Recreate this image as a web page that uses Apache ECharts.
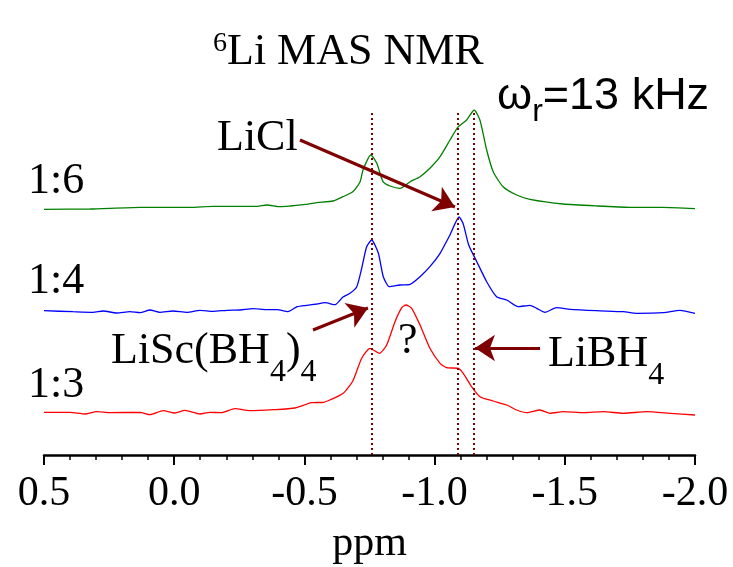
<!DOCTYPE html>
<html>
<head>
<meta charset="utf-8">
<script src="https://cdn.jsdelivr.net/npm/echarts@6/dist/echarts.min.js"></script>
<style>
html,body{margin:0;padding:0;background:#fff;overflow:hidden;}
#chart{width:733px;height:567px;}
</style>
</head>
<body>
<div id="chart"></div>
<script>
// ---- data (ppm, intensity in arbitrary units incl. stacking offset) ----
var ppm16 = [0.5,0.323,0.131,-0.061,-0.149,-0.318,-0.356,-0.406,-0.510,-0.548,-0.610,-0.648,-0.687,-0.714,-0.725,-0.755,-0.778,-0.802,-0.829,-0.867,-0.906,-0.944,-0.982,-1.021,-1.059,-1.089,-1.123,-1.152,-1.174,-1.200,-1.225,-1.263,-1.315,-1.366,-1.493,-1.624,-1.750,-1.877,-2.0];
var int16 = [250.7,251,252.7,252.7,253.7,253.7,255,253.3,255.7,257.3,259,263.3,268.5,278.3,290,305,296.7,278.3,274,271.7,278.3,283.3,291.7,303.3,320,332.7,340,350,340,310,288.3,273.3,265,260.7,256,254,252.7,252.7,251.3];

var ppm14 = [0.5,0.389,0.312,0.273,0.220,0.170,0.131,0.093,0.055,0.005,-0.049,-0.099,-0.149,-0.203,-0.253,-0.303,-0.356,-0.395,-0.437,-0.472,-0.510,-0.548,-0.579,-0.618,-0.648,-0.675,-0.701,-0.720,-0.739,-0.758,-0.784,-0.803,-0.826,-0.867,-0.906,-0.944,-0.982,-1.021,-1.059,-1.094,-1.110,-1.131,-1.162,-1.200,-1.238,-1.277,-1.321,-1.366,-1.392,-1.424,-1.469,-1.520,-1.622,-1.725,-1.776,-1.878,-1.942,-2.0];
var int14 = [149.3,148.3,147.7,149,147,148.3,147.3,150,147.7,149,147.7,149.7,148.7,149.7,150,151.3,150.3,150.3,148.3,153.3,154.7,156,157.3,155.3,163,166.7,173.3,191.7,213.3,220,206.7,183.3,173.3,175,175.7,183.3,193.3,206.7,225,243,236,215,198.3,178.3,163.3,160,153.3,154.7,151.7,147.7,152.3,150.7,149.3,148.3,146.7,147.3,149.7,146.7];

var ppm13 = [0.5,0.400,0.343,0.298,0.247,0.131,0.093,0.042,-0.003,-0.041,-0.099,-0.137,-0.182,-0.233,-0.291,-0.381,-0.464,-0.528,-0.573,-0.598,-0.649,-0.686,-0.720,-0.752,-0.788,-0.816,-0.848,-0.874,-0.890,-0.912,-0.944,-0.982,-1.021,-1.046,-1.091,-1.110,-1.142,-1.174,-1.225,-1.277,-1.315,-1.354,-1.405,-1.443,-1.494,-1.571,-1.648,-1.725,-1.814,-1.904,-2.0];
var int13 = [47.7,47.7,46,48.3,47.3,47.7,45.3,49.3,47,49.7,46,47.7,47.3,51.3,49.3,50.3,52,57.3,57.7,60,66.7,79,101.7,111.7,106.7,115,138.3,152.3,155,151.7,135,111.7,96.7,92.3,91.7,86.7,73.3,63.3,59,55,50,47.3,50,46.7,48.3,47.3,48.3,46.7,48.3,46.7,45];

var refLines = [-0.755, -1.087, -1.152];          // dotted reference shifts (ppm)
var xTicks = [0.5, 0.0, -0.5, -1.0, -1.5, -2.0];
// arrow annotations: [fromPpm, fromInt, toPpm, toInt]
var arrowLiCl = [-0.483, 320, -1.078, 253];
var arrowLiSc = [-0.533, 130, -0.744, 152];
var arrowLiBH4 = [-1.405, 112, -1.155, 112];

function pairs(x, y){ return x.map(function(v,i){ return [v, y[i]]; }); }
function arrow(a){ return [{coord:[a[0],a[1]]},{coord:[a[2],a[3]]}]; }

var chart = echarts.init(document.getElementById('chart'), null, {renderer:'canvas', width: 733, height: 567});
var serif = 'Liberation Serif, Times New Roman, serif';
var sans = 'Liberation Sans, Arial, sans-serif';
var dark = '#7f0000';

var mainTok = {fontFamily: serif, fontSize: 44, lineHeight: 50, verticalAlign: 'top', color: '#000'};
var subTok = {fontFamily: serif, fontSize: 32, verticalAlign: 'top', padding: [28,0,0,0], color: '#000'};
var supTok = {fontFamily: serif, fontSize: 28, verticalAlign: 'top', padding: [0,0,0,0], color: '#000'};

function txt(x, y, text, rich){
  return {type:'text', left:x, top:y, silent:true, z:100,
    style:{text:text, rich:rich || {m:mainTok, s:subTok, p:supTok}, fill:'#000', font: '44px ' + serif}};
}

chart.setOption({
  animation: false,
  backgroundColor: '#fff',
  grid: {left: 44, right: 38, top: 110, bottom: 112, containLabel: false, outerBoundsMode: 'none'},
  xAxis: {
    type: 'value', min: -2.0, max: 0.5, interval: 0.5, inverse: true,
    axisLine: {show: true, onZero: false, lineStyle: {color: '#000', width: 2.5}},
    axisTick: {show: true, inside: false, length: 10, lineStyle: {color: '#000', width: 2}},
    minorTick: {show: true, splitNumber: 5, length: 5, lineStyle: {color: '#000', width: 1.5}},
    splitLine: {show: false},
    axisLabel: {fontFamily: serif, fontSize: 42, color: '#000', margin: 18,
      formatter: function(v){ return (Math.abs(v) < 1e-9 ? 0 : v).toFixed(1); }},
    name: 'ppm', nameLocation: 'middle', nameGap: 68,
    nameTextStyle: {fontFamily: serif, fontSize: 42, color: '#000'}
  },
  yAxis: {type: 'value', min: 5, max: 350, show: false},
  series: [
    {name: '1:6', type: 'line', data: pairs(ppm16, int16), showSymbol: false, symbol: 'none', smooth: 0.2,
     lineStyle: {color: '#008000', width: 1.3}, itemStyle: {color: '#008000'}, z: 3},
    {name: '1:4', type: 'line', data: pairs(ppm14, int14), showSymbol: false, symbol: 'none', smooth: 0.2,
     lineStyle: {color: '#0000ff', width: 1.3}, itemStyle: {color: '#0000ff'}, z: 3,
     markLine: {silent: true, symbol: ['none', 'arrow'], symbolSize: 20, label: {show: false},
       lineStyle: {color: dark, width: 3, type: 'solid'},
       data: [arrow(arrowLiCl), arrow(arrowLiSc), arrow(arrowLiBH4)]}},
    {name: '1:3', type: 'line', data: pairs(ppm13, int13), showSymbol: false, symbol: 'none', smooth: 0.2,
     lineStyle: {color: '#ff0000', width: 1.3}, itemStyle: {color: '#ff0000'}, z: 3,
     markLine: {silent: true, symbol: ['none', 'none'], label: {show: false},
       lineStyle: {color: dark, width: 2, type: [2, 3]},
       data: refLines.map(function(v){ return {xAxis: v}; })}}
  ],
  graphic: [
    txt(213, 30, '{p|6}{m|Li MAS NMR}'),
    txt(497, 74, '{w|ω}{r|r}{w|=13 kHz}', {
      w: {fontFamily: sans, fontSize: 45, lineHeight: 50, verticalAlign: 'top', color: '#000'},
      r: {fontFamily: sans, fontSize: 32, verticalAlign: 'top', padding: [22,0,0,0], color: '#000'}}),
    txt(217, 116, '{m|LiCl}'),
    txt(28, 159, '{m|1:6}'),
    txt(28, 259, '{m|1:4}'),
    txt(28, 363, '{m|1:3}'),
    txt(111, 329, '{m|LiSc(BH}{s|4}{m|)}{s|4}'),
    txt(548, 332, '{m|LiBH}{s|4}'),
    txt(398, 319, '{m|?}')
  ]
});
</script>
</body>
</html>
